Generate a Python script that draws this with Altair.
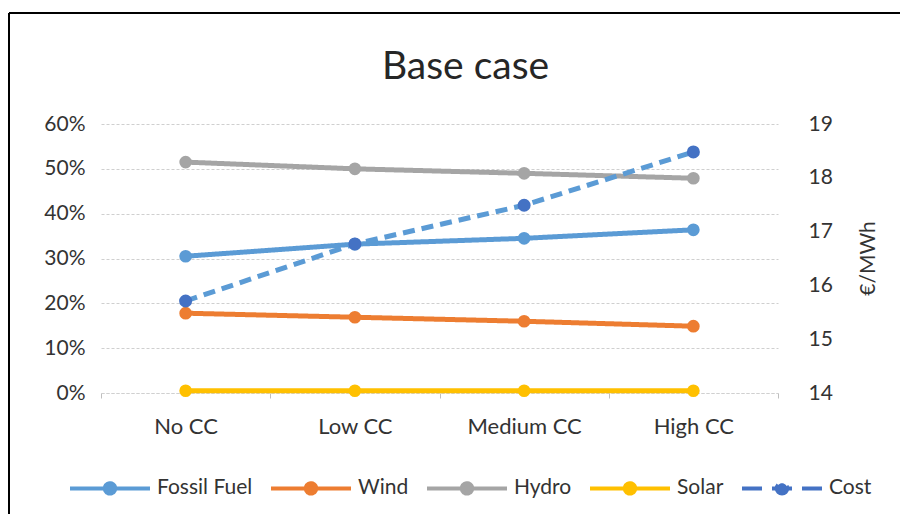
import altair as alt
import pandas as pd

categories = ["No CC", "Low CC", "Medium CC", "High CC"]
series_names = ["Fossil Fuel", "Wind", "Hydro", "Solar"]
fossil = [0.305, 0.332, 0.345, 0.364]
wind = [0.178, 0.169, 0.160, 0.149]
hydro = [0.515, 0.500, 0.490, 0.479]
solar = [0.005, 0.005, 0.005, 0.005]
cost = [15.71, 16.77, 17.49, 18.48]

legend_domain = ["Fossil Fuel", "Wind", "Hydro", "Solar", "Cost"]
legend_colors = ["#5B9BD5", "#ED7D31", "#A5A5A5", "#FFC000", "#4472C4"]
legend_dash = [[1, 0], [1, 0], [1, 0], [1, 0], [20, 10]]

rows = []
for name, vals in zip(series_names, [fossil, wind, hydro, solar]):
    for c, v in zip(categories, vals):
        rows.append({"category": c, "series": name, "share": v})
share_df = pd.DataFrame(rows)
cost_df = pd.DataFrame({"category": categories, "cost": cost, "series": ["Cost"] * 4})

FONT = "Lato"
TXT = "#333333"

x_enc = alt.X(
    "category:N",
    sort=categories,
    scale=alt.Scale(paddingInner=0, paddingOuter=0),
    axis=alt.Axis(
        title=None, labelAngle=0, labelFontSize=22, labelFont=FONT, labelColor=TXT,
        labelPadding=18, tickBand="extent", ticks=True, tickSize=5, tickColor="#BFBFBF",
        domain=True, domainColor="#D0D0D0", domainDash=[3, 2], grid=False,
    ),
)

y_left = alt.Y(
    "share:Q",
    scale=alt.Scale(domain=[0, 0.6], nice=False),
    axis=alt.Axis(
        title=None, format=".0%", values=[0, 0.1, 0.2, 0.3, 0.4, 0.5, 0.6],
        labelFontSize=21, labelFont=FONT, labelColor=TXT, labelPadding=16,
        ticks=False, domain=False, grid=True, gridColor="#CFCFCF", gridDash=[3, 2],
    ),
)

color_scale = alt.Scale(domain=legend_domain, range=legend_colors)
dash_scale = alt.Scale(domain=legend_domain, range=legend_dash)

legend = alt.Legend(
    title=None, orient="none", legendX=-33, legendY=322, direction="horizontal",
    symbolType="M-1,0L1,0M0.13,0A0.13,0.13,0,1,1,-0.13,0A0.13,0.13,0,1,1,0.13,0Z",
    symbolSize=6400, symbolStrokeWidth=4, labelFontSize=21, labelFont=FONT,
    labelColor=TXT, labelOffset=5, columnPadding=10, labelLimit=300,
)

share_lines = alt.Chart(share_df).mark_line(strokeWidth=5).encode(
    x=x_enc,
    y=y_left,
    color=alt.Color("series:N", scale=color_scale, legend=legend),
    strokeDash=alt.StrokeDash("series:N", scale=dash_scale, legend=legend),
)

share_points = alt.Chart(share_df).mark_point(filled=True, size=160, opacity=1).encode(
    x=x_enc,
    y=y_left,
    color=alt.Color("series:N", scale=color_scale, legend=legend),
)

y_right = alt.Y(
    "cost:Q",
    scale=alt.Scale(domain=[14, 19], nice=False),
    axis=alt.Axis(
        orient="right", title="€/MWh", values=[14, 15, 16, 17, 18, 19],
        labelFontSize=21, labelFont=FONT, labelColor=TXT, labelPadding=30,
        ticks=False, domain=False, grid=False, titleFontSize=21, titleFont=FONT,
        titleColor=TXT, titleFontWeight="normal", titleAngle=270, titleX=90,
        titleY=134, titleAlign="center", titleBaseline="middle",
    ),
)

cost_line = alt.Chart(cost_df).mark_line(strokeWidth=5, strokeDash=[12, 7], color="#5B9BD5").encode(
    x=x_enc, y=y_right
)
cost_points = alt.Chart(cost_df).mark_point(filled=True, size=170, color="#4472C4", opacity=1).encode(
    x=x_enc, y=y_right
)

left = alt.layer(share_lines, share_points)
right = alt.layer(cost_line, cost_points)

border_top = alt.Chart(cost_df).mark_rule(color="black", strokeWidth=2).encode(
    x=alt.value(-92), x2=alt.value(810), y=alt.value(-111)
)
border_left = alt.Chart(cost_df).mark_rule(color="black", strokeWidth=2).encode(
    x=alt.value(-92), y=alt.value(-111), y2=alt.value(400)
)

chart = alt.layer(left, right, border_top, border_left).resolve_scale(
    y="independent"
).properties(
    width=677, height=269,
    autosize=alt.AutoSizeParams(type="none"),
    padding={"left": 93, "top": 116, "right": 122, "bottom": 121},
    title=alt.TitleParams(
        "Base case", fontSize=39, font=FONT, color="#262626", fontWeight="normal",
        anchor="middle", offset=-75, dx=26,
    ),
).configure_view(stroke=None)

chart.save("out.html", embed_options={"renderer": "svg", "actions": False})
